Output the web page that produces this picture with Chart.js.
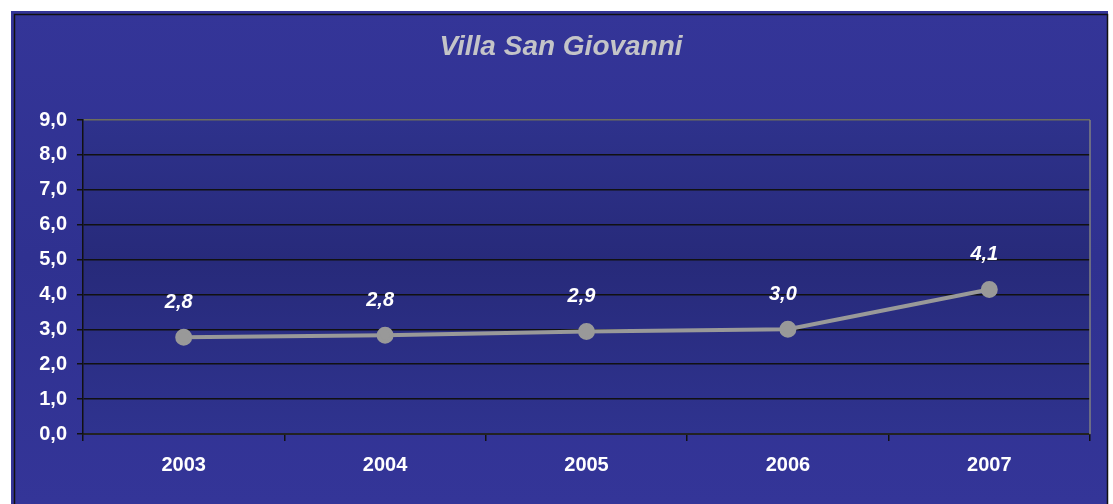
<!DOCTYPE html>
<html>
<head>
<meta charset="utf-8">
<script src="https://cdn.jsdelivr.net/npm/chart.js@4"></script>
<style>
  body { margin: 0; background: #fff; }
  #wrap { width: 1113px; height: 504px; }
</style>
</head>
<body>
<div id="wrap"><canvas id="linechart" width="1113" height="504"></canvas></div>
<script>
const years = ['2003', '2004', '2005', '2006', '2007'];
const values = [2.77, 2.83, 2.94, 3.0, 4.14];
const valueLabels = ['2,8', '2,8', '2,9', '3,0', '4,1'];
const chartTitle = 'Villa San Giovanni';

const fmt = v => v.toFixed(1).replace('.', ',');

// background frame, plot gradient, title
const frame = {
  id: 'frame',
  beforeDraw(chart) {
    const c = chart.ctx, a = chart.chartArea;
    c.save();
    c.fillStyle = '#fff';
    c.fillRect(0, 0, chart.width, chart.height);
    let g = c.createLinearGradient(0, 11, 0, 504);
    g.addColorStop(0, '#343598');
    g.addColorStop(0.5, '#2f3190');
    g.addColorStop(1, '#343598');
    c.fillStyle = g;
    c.fillRect(11, 11, 1097, 493);
    c.strokeStyle = '#111';
    c.lineWidth = 1.5;
    c.beginPath();
    c.moveTo(14.5, 504); c.lineTo(14.5, 14.5); c.lineTo(1107.5, 14.5); c.lineTo(1107.5, 504);
    c.stroke();
    g = c.createLinearGradient(0, a.top, 0, a.bottom);
    g.addColorStop(0, '#2e328c');
    g.addColorStop(0.45, '#272a7a');
    g.addColorStop(1, '#2f338f');
    c.fillStyle = g;
    c.fillRect(a.left, a.top, a.right - a.left, a.bottom - a.top);
    c.font = 'italic bold 28px "Liberation Sans", Arial, sans-serif';
    c.fillStyle = '#c4c4c8';
    c.textAlign = 'center';
    c.textBaseline = 'middle';
    c.fillText(chartTitle, 561, 47);
    c.restore();
  },
  afterDraw(chart) {
    const c = chart.ctx, a = chart.chartArea;
    c.save();
    c.strokeStyle = '#808080';
    c.lineWidth = 1.5;
    c.beginPath();
    c.moveTo(a.right, a.top); c.lineTo(a.right, a.bottom);
    c.stroke();
    // value labels
    const meta = chart.getDatasetMeta(0);
    c.font = 'italic bold 20px "Liberation Sans", Arial, sans-serif';
    c.fillStyle = '#fff';
    c.textAlign = 'center';
    c.textBaseline = 'middle';
    meta.data.forEach((p, i) => c.fillText(valueLabels[i], p.x - 5, p.y - 35));
    c.restore();
  }
};

const ctx = document.getElementById('linechart').getContext('2d');
const myChart = new Chart(ctx, {
  type: 'line',
  data: {
    labels: years,
    datasets: [{
      data: values,
      borderColor: '#999999',
      backgroundColor: '#999999',
      borderWidth: 4,
      pointRadius: 6.5,
      pointHoverRadius: 6.5,
      tension: 0
    }]
  },
  options: {
    responsive: false,
    animation: false,
    events: [],
    layout: { padding: { left: 0, top: 120, right: 23, bottom: 0 } },
    plugins: { legend: { display: false }, title: { display: false }, tooltip: { enabled: false } },
    scales: {
      x: {
        offset: true,
        afterFit: s => { s.height = 70; },
        grid: { offset: true, drawOnChartArea: false, drawTicks: true, tickLength: 7, color: '#111', lineWidth: 1.5 },
        border: { display: true, color: '#222', width: 2 },
        ticks: { color: '#fff', padding: 12, font: { family: '"Liberation Sans", Arial', size: 20, weight: 'bold' } }
      },
      y: {
        min: 0, max: 9,
        afterFit: s => { s.width = 83; },
        grid: {
          color: c => c.tick && c.tick.value === 9 ? '#6e6e5a' : '#111',
          lineWidth: 1.5,
          tickLength: 6,
          tickColor: '#111'
        },
        border: { display: true, color: '#111', width: 1.5 },
        ticks: {
          stepSize: 1,
          color: '#fff',
          padding: 10,
          callback: v => fmt(v),
          font: { family: '"Liberation Sans", Arial', size: 20, weight: 'bold' }
        }
      }
    }
  },
  plugins: [frame]
});
</script>
</body>
</html>
